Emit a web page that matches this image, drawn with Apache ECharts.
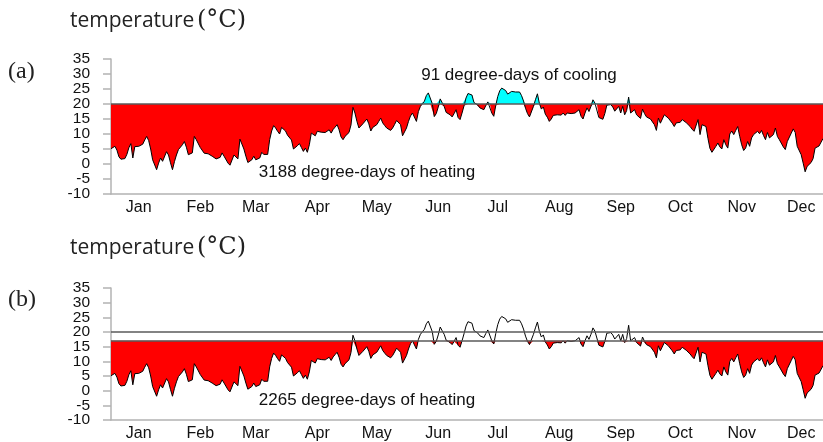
<!DOCTYPE html>
<html>
<head>
<meta charset="utf-8">
<script src="https://cdn.jsdelivr.net/npm/echarts@6/dist/echarts.min.js"></script>
<style>
  html, body { margin: 0; padding: 0; background: #ffffff; }
  #chart { width: 823px; height: 442px; }
</style>
</head>
<body>
<div id="chart"></div>
<script>
// Calendar used for the day-of-year categories
const monthNames = ['Jan', 'Feb', 'Mar', 'Apr', 'May', 'Jun', 'Jul', 'Aug', 'Sep', 'Oct', 'Nov', 'Dec'];
const monthLengths = [31, 28, 31, 30, 31, 30, 31, 31, 30, 31, 30, 31];

// Daily mean outdoor temperature (°C), from 1 January
const dailyTemp = [
  5.1, 5.5, 5.9, 4.6, 2.4, 1.6, 1.4, 1.8, 3.2, 5.4,
  6.8, 2.0, 5.8, 6.2, 5.9, 6.1, 6.6, 8.0, 9.2, 7.8,
  5.0, 1.4, 0.9, -1.9, 0.3, 2.0, 0.9, 0.5, 4.1, 3.0,
  0.4, -1.9, 0.8, 3.0, 4.8, 5.4, 6.4, 7.5, 5.6, 3.1,
  2.8, 3.7, 9.2, 8.1, 8.7, 5.5, 5.3, 3.6, 4.2, 3.4,
  3.1, 2.6, 2.1, 1.7, 1.9, 2.2, 3.7, 2.6, 2.0, 0.3,
  -0.4, -1.0, 3.0, 2.6, 1.7, 8.3, 8.0, 5.0, 2.6, 0.5,
  0.6, 1.4, 2.6, 1.4, 1.9, 2.0, 3.9, 3.2, 2.8, 3.2,
  8.1, 11.0, 12.8, 12.0, 10.9, 10.0, 12.2, 11.8, 11.0, 9.6,
  9.2, 8.0, 5.0, 4.8, 6.1, 6.8, 5.5, 4.2, 5.3, 3.9,
  6.4, 10.3, 9.8, 9.4, 10.9, 10.3, 10.6, 11.1, 10.5, 10.8,
  11.4, 10.3, 11.5, 12.3, 13.1, 11.4, 9.0, 8.1, 9.2, 9.6,
  10.5, 13.0, 18.9, 17.0, 14.2, 12.0, 12.5, 13.4, 13.7, 15.0,
  13.4, 11.0, 12.2, 12.5, 13.1, 14.2, 15.3, 13.7, 12.8, 12.0,
  11.6, 11.2, 12.0, 13.2, 14.5, 15.0, 13.1, 9.4, 9.8, 12.0,
  14.2, 16.0, 17.0, 17.2, 14.2, 17.5, 19.2, 20.1, 20.9, 22.8,
  23.7, 23.3, 20.1, 15.8, 16.8, 19.0, 21.7, 20.4, 19.2, 17.2,
  16.8, 16.4, 15.7, 16.8, 18.1, 15.5, 14.8, 17.0, 19.4, 22.0,
  23.5, 23.9, 23.0, 20.5, 20.0, 19.6, 18.7, 18.3, 18.1, 19.5,
  20.7, 20.6, 17.0, 15.9, 19.5, 22.5, 24.4, 25.3, 25.5, 24.5,
  23.3, 23.6, 24.2, 23.8, 24.0, 23.7, 24.0, 22.8, 21.0, 18.6,
  16.8, 15.7, 15.8, 19.2, 21.4, 23.4, 20.2, 18.3, 19.0, 16.6,
  15.6, 14.2, 15.0, 16.2, 15.6, 16.4, 17.0, 16.3, 17.0, 16.2,
  17.0, 16.4, 16.8, 16.7, 17.0, 16.5, 18.1, 15.9, 15.0, 17.0,
  18.7, 17.5, 19.2, 21.4, 20.3, 20.9, 15.5, 15.3, 14.9, 16.8,
  19.6, 20.0, 19.8, 19.0, 17.6, 17.5, 19.2, 17.0, 19.2, 16.4,
  17.8, 22.3, 17.0, 17.5, 18.1, 16.4, 16.8, 15.2, 18.3, 16.8,
  15.7, 15.2, 15.0, 14.8, 13.1, 11.2, 15.3, 13.6, 13.1, 16.4,
  16.8, 15.3, 14.8, 13.6, 12.5, 13.7, 14.2, 13.9, 14.8, 14.2,
  13.8, 13.4, 12.5, 11.6, 10.9, 11.4, 14.8, 9.8, 13.1, 13.4,
  12.5, 8.5, 5.2, 3.9, 4.2, 5.9, 7.0, 5.7, 5.0, 8.1,
  6.4, 5.3, 10.0, 11.0, 9.8, 11.2, 12.5, 9.2, 6.4, 4.5,
  5.3, 7.5, 5.9, 8.7, 9.8, 9.7, 10.9, 10.1, 11.2, 9.5,
  8.1, 10.5, 8.7, 9.2, 9.8, 12.0, 9.2, 8.1, 8.7, 5.7,
  4.8, 7.5, 7.0, 10.3, 11.7, 10.5, 5.9, 5.3, 3.1, 0.3,
  -2.6, -0.8, -0.2, 0.5, 1.8, 5.3, 5.0, 6.0, 6.4, 8.5
];

// Base temperatures for the degree-day sums
const coolingBase = 20;   // panel (a): heating below, cooling above
const heatingBase = 17;   // panel (b): heating below only
const degreeDayLabels = {
  a: { cooling: '91 degree-days of cooling', heating: '3188 degree-days of heating' },
  b: { heating: '2265 degree-days of heating' }
};

// Temperature axis range and its 5-degree tick labels
const tempMin = -10;
const tempMax = 35;
const tempStep = 5;
const tempTickLabels = ['-10', '-5', '0', '5', '10', '15', '20', '25', '30', '35'];

// Day-of-year category names ("Jan 1", "Jan 2", ...)
const dayCategories = [];
monthNames.forEach(function (m, mi) {
  for (let d = 1; d <= monthLengths[mi]; d++) dayCategories.push(m + ' ' + d);
});
const categories = dayCategories.slice(0, dailyTemp.length);

// Portions of the curve below / above a base temperature
const belowBase = function (base) { return dailyTemp.map(function (t) { return Math.min(t, base); }); };
const aboveBase = function (base) { return dailyTemp.map(function (t) { return Math.max(t, base); }); };

const AXIS_GREY = '#b3b3b3';
const REF_GREY = '#5a5a5a';
const HEAT_RED = '#ff0000';
const COOL_CYAN = '#00ffff';
const SANS = '"Liberation Sans", Arial, sans-serif';
const SERIF = '"Liberation Serif", "Times New Roman", serif';

function xAxisFor(gridIndex) {
  return {
    type: 'category',
    gridIndex: gridIndex,
    data: categories,
    boundaryGap: false,
    axisLine: { show: true, onZero: false, lineStyle: { color: AXIS_GREY, width: 1.5 } },
    axisTick: { show: false },
    axisLabel: {
      // one month label on the 15th of each month
      interval: function (index, value) { return value.split(' ')[1] === '15'; },
      formatter: function (value) { return value.split(' ')[0]; },
      color: '#111',
      fontFamily: SANS,
      fontSize: 16,
      margin: 6
    },
    splitLine: { show: false }
  };
}

// Scale used by the data
function valueAxisFor(gridIndex) {
  return {
    type: 'value',
    gridIndex: gridIndex,
    position: 'left',
    min: tempMin,
    max: tempMax,
    interval: tempStep,
    axisLine: { show: false, onZero: false },
    axisTick: { show: false },
    axisLabel: { show: false },
    splitLine: { show: false }
  };
}

// Axis line, ticks and the full set of 5-degree labels (evenly spaced from -10 to 35)
function labelAxisFor(gridIndex) {
  return {
    type: 'category',
    gridIndex: gridIndex,
    position: 'left',
    data: tempTickLabels,
    boundaryGap: false,
    axisLine: { show: true, onZero: false, lineStyle: { color: AXIS_GREY, width: 1.5 } },
    axisTick: { show: true, length: 8, interval: 0, lineStyle: { color: AXIS_GREY, width: 1.5 } },
    axisLabel: {
      interval: 0,
      color: '#111',
      fontFamily: SANS,
      fontSize: 15.5,
      margin: 21
    },
    splitLine: { show: false }
  };
}

function fillSeries(axisIndex, values, base, color) {
  return {
    type: 'line',
    xAxisIndex: axisIndex,
    yAxisIndex: axisIndex,
    data: values,
    symbol: 'none',
    silent: true,
    animation: false,
    lineStyle: { width: 0, opacity: 0 },
    areaStyle: { origin: base, color: color, opacity: 1 },
    z: 1
  };
}

function curveSeries(axisIndex, refLines) {
  return {
    type: 'line',
    xAxisIndex: axisIndex,
    yAxisIndex: axisIndex,
    data: dailyTemp,
    symbol: 'none',
    silent: true,
    animation: false,
    lineStyle: { color: '#000', width: 1 },
    z: 3,
    markLine: {
      silent: true,
      symbol: 'none',
      animation: false,
      label: { show: false },
      lineStyle: { color: REF_GREY, width: 1.5, type: 'solid' },
      data: refLines.map(function (v) { return { yAxis: v }; })
    }
  };
}

const chart = echarts.init(document.getElementById('chart'), null, { renderer: 'canvas' });

chart.setOption({
  animation: false,
  backgroundColor: '#ffffff',
  grid: [
    { left: 111, right: 0, top: 59, height: 135 },
    { left: 111, right: 0, top: 288, height: 134 }
  ],
  xAxis: [xAxisFor(0), xAxisFor(1)],
  yAxis: [valueAxisFor(0), valueAxisFor(1), labelAxisFor(0), labelAxisFor(1)],
  series: [
    fillSeries(0, belowBase(coolingBase), coolingBase, HEAT_RED),
    fillSeries(0, aboveBase(coolingBase), coolingBase, COOL_CYAN),
    curveSeries(0, [coolingBase]),
    fillSeries(1, belowBase(heatingBase), heatingBase, HEAT_RED),
    curveSeries(1, [coolingBase, heatingBase])
  ],
  graphic: [
    { type: 'text', left: 70, top: 11, style: { text: 'temperature', font: '21px "Open Sans", sans-serif', fill: '#222' } },
    { type: 'text', left: 197, top: 9, style: { text: '(°C)', font: '24px "DejaVu Serif", serif', fill: '#222' } },
    { type: 'text', left: 8, top: 60, style: { text: '(a)', font: '24px ' + SERIF, fill: '#222' } },
    { type: 'text', left: 70, top: 238, style: { text: 'temperature', font: '21px "Open Sans", sans-serif', fill: '#222' } },
    { type: 'text', left: 197, top: 236, style: { text: '(°C)', font: '24px "DejaVu Serif", serif', fill: '#222' } },
    { type: 'text', left: 8, top: 288, style: { text: '(b)', font: '24px ' + SERIF, fill: '#222' } },
    { type: 'text', x: 519, y: 75, style: { text: degreeDayLabels.a.cooling, font: '17px ' + SANS, fill: '#111', align: 'center', verticalAlign: 'middle' } },
    { type: 'text', x: 367, y: 172, style: { text: degreeDayLabels.a.heating, font: '17px ' + SANS, fill: '#111', align: 'center', verticalAlign: 'middle' } },
    { type: 'text', x: 367, y: 400, style: { text: degreeDayLabels.b.heating, font: '17px ' + SANS, fill: '#111', align: 'center', verticalAlign: 'middle' } }
  ]
});
</script>
</body>
</html>
